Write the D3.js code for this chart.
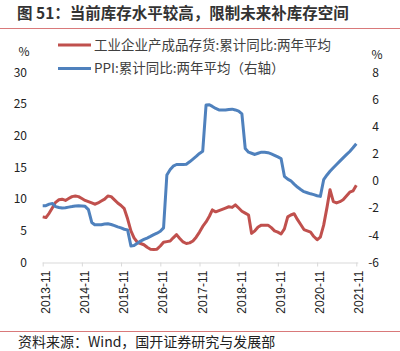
<!DOCTYPE html>
<html>
<head>
<meta charset="utf-8">
<script src="https://cdn.jsdelivr.net/npm/d3@7"></script>
<style>
  body { margin: 0; background: #fff; }
  svg { display: block; font-family: "Noto Sans CJK SC", "Noto Sans", sans-serif; }
</style>
</head>
<body>
<div id="chart"></div>
<script>
// 月度数据：2013-11 至 2021-11
const startMonth = "2013-11";
const tickLabels = ["2013-11", "2014-11", "2015-11", "2016-11", "2017-11", "2018-11", "2019-11", "2020-11", "2021-11"];

// 工业企业产成品存货:累计同比:两年平均（左轴，%）
const inventory = [
  7.2, 7.1, 7.8, 8.7, 9.5, 9.9, 10.0, 9.8, 10.1, 10.4, 10.5, 10.4,
  10.1, 9.8, 9.6, 9.4, 9.2, 9.4, 9.7, 10.0, 10.5, 10.4, 9.9, 9.4,
  9.0, 8.5, 6.9, 5.0, 3.9, 3.2, 3.0, 2.8, 2.4, 2.1, 2.05, 2.1,
  2.6, 3.2, 3.3, 3.4, 3.9, 4.4, 3.8, 3.25, 3.0, 3.1, 3.4, 4.0,
  4.8, 5.7, 6.4, 7.3, 8.3, 8.0, 8.2, 8.4, 8.6, 8.8, 8.7, 9.1,
  8.6, 8.1, 7.8, 7.5, 4.6, 5.0, 5.6, 5.9, 5.9, 5.9, 5.5, 5.0,
  4.8, 4.5, 5.3, 7.2, 7.5, 7.7, 6.8, 6.0, 5.2, 5.0, 4.8, 4.1,
  3.6, 4.0, 5.9, 8.7, 11.5, 9.6, 9.4, 9.6, 9.9, 10.5, 11.1, 11.3,
  12.2
];

// PPI:累计同比:两年平均（右轴，%）
const ppi = [
  -1.81, -1.81, -1.7, -1.65, -1.88, -1.95, -1.99, -1.97, -1.92, -1.88, -1.83, -1.81,
  -1.83, -1.86, -2.1, -3.05, -3.22, -3.22, -3.22, -3.17, -3.15, -3.2, -3.28, -3.37,
  -3.45, -3.55, -3.6, -4.78, -4.75, -4.58, -4.42, -4.3, -4.2, -4.08, -3.95, -3.84,
  -3.7, -3.45, 0.45, 0.85, 1.1, 1.22, 1.22, 1.22, 1.24, 1.42, 1.62, 1.82,
  2.04, 2.2, 5.6, 5.62, 5.5, 5.35, 5.24, 5.24, 5.24, 5.28, 5.3, 5.24,
  5.15, 4.95, 2.4, 2.13, 2.05, 1.96, 2.05, 2.13, 2.12, 2.09, 2.0, 1.9,
  1.78, 1.66, 0.35, 0.14, 0.02, -0.22, -0.44, -0.62, -0.78, -0.86, -0.94, -1.0,
  -1.08, -1.13, 0.1, 0.45, 0.72, 0.98, 1.22, 1.47, 1.71, 1.95, 2.18, 2.45,
  2.75
];

const leftTicks = [0, 5, 10, 15, 20, 25, 30];
const rightTicks = [-6, -4, -2, 0, 2, 4, 6, 8];

const width = 400, height = 351;
const parseMonth = d3.timeParse("%Y-%m");
const fmtMonth = d3.timeFormat("%Y-%m");
const start = parseMonth(startMonth);
const months = d3.range(inventory.length).map(i => d3.timeMonth.offset(start, i));

const svg = d3.select("#chart").append("svg")
    .attr("width", width)
    .attr("height", height);

// 标题
svg.append("text")
    .attr("x", 17)
    .attr("y", 19)
    .style("font-size", "15.5px")
    .style("font-weight", "bold")
    .style("fill", "#333")
    .text("图 51：当前库存水平较高，限制未来补库存空间");

svg.append("line")
    .attr("x1", 0).attr("x2", width)
    .attr("y1", 28.5).attr("y2", 28.5)
    .style("stroke", "#d9797a")
    .style("stroke-width", 1);

// 比例尺
let x = d3.scaleTime()
    .domain([months[0], months[months.length - 1]])
    .range([42.7, 356.3]);
let yL = d3.scaleLinear().domain([0, 30]).range([262.5, 72.5]);
let yR = d3.scaleLinear().domain([-6, 8]).range([262.5, 72.5]);

// 左轴
svg.append("g")
    .selectAll("text")
    .data(leftTicks)
    .enter()
    .append("text")
    .attr("x", 27)
    .attr("y", d => yL(d))
    .attr("dy", "0.35em")
    .attr("text-anchor", "end")
    .style("font-size", "12px")
    .style("fill", "#222")
    .text(d => d);

svg.append("text")
    .attr("x", 24).attr("y", 52).attr("dy", "0.35em")
    .attr("text-anchor", "middle")
    .style("font-size", "12px").style("fill", "#222")
    .text("%");

// 右轴
svg.append("g")
    .selectAll("text")
    .data(rightTicks)
    .enter()
    .append("text")
    .attr("x", 379)
    .attr("y", d => yR(d))
    .attr("dy", "0.35em")
    .attr("text-anchor", "end")
    .style("font-size", "12px")
    .style("fill", "#222")
    .text(d => d);

svg.append("text")
    .attr("x", 377).attr("y", 55).attr("dy", "0.35em")
    .attr("text-anchor", "middle")
    .style("font-size", "12px").style("fill", "#222")
    .text("%");

// X 轴
let xAxis = svg.append("g")
    .attr("transform", `translate(0,${262.5})`)
    .call(d3.axisBottom(x)
        .tickValues(tickLabels.map(parseMonth))
        .tickSize(4)
        .tickSizeOuter(0)
        .tickFormat(fmtMonth));

xAxis.selectAll(".domain, line").style("stroke", "#d9d9d9");
xAxis.selectAll("text")
    .style("font-size", "12px")
    .style("fill", "#222")
    .attr("text-anchor", "end")
    .attr("dominant-baseline", "central")
    .attr("x", -8)
    .attr("y", 0)
    .attr("dy", null)
    .attr("transform", "rotate(-90) translate(0,2.5)");
xAxis.select(".domain").attr("d", `M${x.range()[0]},0.5H${x.range()[1] + 2}`);

// 折线
let lineInv = d3.line()
    .x((d, i) => x(months[i]))
    .y(d => yL(d));
let linePpi = d3.line()
    .x((d, i) => x(months[i]))
    .y(d => yR(d));

svg.append("path")
    .datum(inventory)
    .attr("d", lineInv)
    .style("fill", "none")
    .style("stroke", "#c0504d")
    .style("stroke-width", 3)
    .style("stroke-linejoin", "round");

svg.append("path")
    .datum(ppi)
    .attr("d", linePpi)
    .style("fill", "none")
    .style("stroke", "#4f81bd")
    .style("stroke-width", 3)
    .style("stroke-linejoin", "round");

// 图例
const legendItems = [
    { label: "工业企业产成品存货:累计同比:两年平均", color: "#c0504d", y: 45 },
    { label: "PPI:累计同比:两年平均（右轴）", color: "#4f81bd", y: 68.5 }
];
let legend = svg.append("g");
legend.selectAll("line")
    .data(legendItems)
    .enter()
    .append("line")
    .attr("x1", 58).attr("x2", 91)
    .attr("y1", d => d.y).attr("y2", d => d.y)
    .style("stroke", d => d.color)
    .style("stroke-width", 3);
legend.selectAll("text")
    .data(legendItems)
    .enter()
    .append("text")
    .attr("x", 94)
    .attr("y", d => d.y)
    .attr("dy", "0.35em")
    .style("font-size", "13.5px")
    .style("fill", "#404040")
    .text(d => d.label);

// 资料来源
svg.append("line")
    .attr("x1", 0).attr("x2", width)
    .attr("y1", 331.5).attr("y2", 331.5)
    .style("stroke", "#d9797a")
    .style("stroke-width", 1);

svg.append("text")
    .attr("x", 18)
    .attr("y", 342)
    .attr("dy", "0.35em")
    .style("font-size", "14px")
    .style("fill", "#222")
    .text("资料来源：Wind，国开证券研究与发展部");
</script>
</body>
</html>
